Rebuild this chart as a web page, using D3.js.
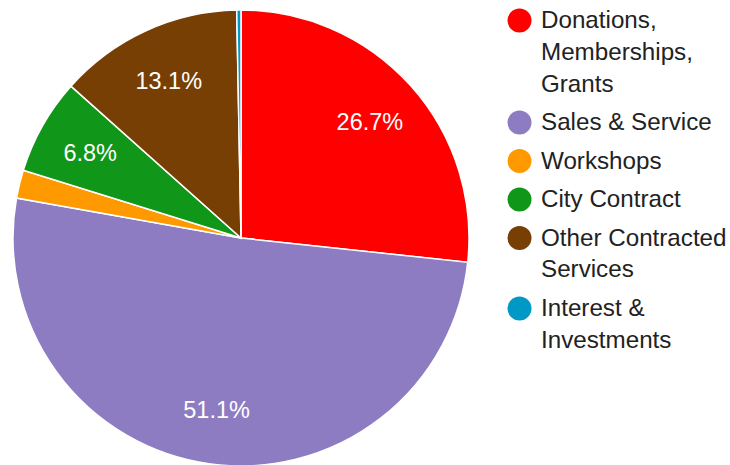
<!DOCTYPE html>
<html><head><meta charset="utf-8">
<script src="https://cdn.jsdelivr.net/npm/d3@7"></script>
<style>body{margin:0;background:#fff}svg{display:block}</style>
</head><body>
<svg id="c" width="730" height="465"></svg>
<script>
const categories = ["Donations, Memberships, Grants","Sales & Service","Workshops","City Contract","Other Contracted Services","Interest & Investments"];
const legendLines = [["Donations,","Memberships,","Grants"],["Sales & Service"],["Workshops"],["City Contract"],["Other Contracted","Services"],["Interest &","Investments"]];
const values = [26.7, 51.1, 2.0, 6.8, 13.1, 0.3];
const colors = ["#ff0000","#8e7cc3","#ff9900","#109618","#783f04","#0099c6"];

const svg = d3.select("#c");
const cx = 241, cy = 238, r = 228;
const total = d3.sum(values);
const pie = d3.pie().sort(null).value(d => d);
const arcs = pie(values);
const arc = d3.arc().innerRadius(0).outerRadius(r);
const g = svg.append("g").attr("transform", `translate(${cx},${cy})`);
g.selectAll("path").data(arcs).join("path")
  .attr("d", arc).attr("fill", (d,i) => colors[i])
  .attr("stroke", "#fff").attr("stroke-width", 1.5);
const labelArc = d3.arc().innerRadius(r*0.76).outerRadius(r*0.76);
g.selectAll("text").data(arcs.filter(d => d.data/total >= 0.05)).join("text")
  .attr("transform", d => `translate(${labelArc.centroid(d)})`)
  .attr("text-anchor","middle").attr("dy","0.35em")
  .attr("fill","#fff").attr("font-family","Liberation Sans, Arial, sans-serif").attr("font-size",23.5)
  .text(d => (d.data/total*100).toFixed(1) + "%");

const lg = svg.append("g").attr("font-family","Liberation Sans, Arial, sans-serif").attr("font-size",24.2).attr("fill","#222");
let y = 28;
legendLines.forEach((lines, i) => {
  lg.append("circle").attr("cx",519.5).attr("cy",y-7.5).attr("r",12).attr("fill",colors[i]);
  lines.forEach((t, j) => {
    lg.append("text").attr("x",541).attr("y",y + j*31.8).text(t);
  });
  y += (lines.length-1)*31.8 + 38.5;
});
</script>
</body></html>
